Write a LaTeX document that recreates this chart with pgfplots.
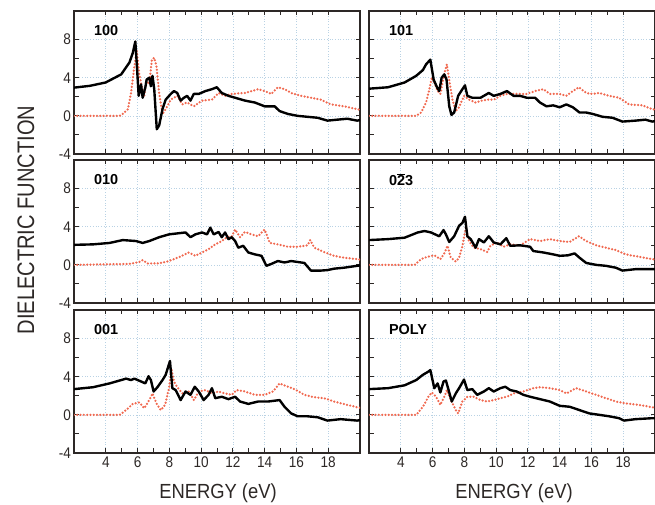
\documentclass[border=0pt]{standalone}
\usepackage{fontspec}
\setmainfont{Liberation Sans}
\usepackage{pgfplots}
\pgfplotsset{compat=1.18}
\definecolor{redd}{RGB}{240,105,80}
\definecolor{gridc}{RGB}{185,210,228}
\definecolor{framec}{RGB}{45,40,38}
\pgfplotsset{
 panel/.style={scale only axis, width=286bp, height=143bp,
  xmin=2, xmax=20, ymin=-4, ymax=11,
  xtick={4,6,...,18}, ytick={-4,0,4,8},
  minor x tick num=1, minor y tick num=1,
  tick align=inside, tick pos=both,
  major tick length=4.5bp, minor tick length=4.5bp,
  grid=major, major grid style={gridc, line width=0.6pt, dash pattern=on 0.7pt off 2pt},
  axis line style={framec, line width=1.7pt},
  every tick/.style={framec, line width=1pt},
  tick label style={font=\fontsize{15.5}{17}\selectfont, text=framec, xscale=0.88},
  /pgf/number format/assume math mode=true,
  anchor=north west},
 blk/.style={black, line width=2.4pt, line join=round},
 redline/.style={redd, line width=2.5pt, line cap=round, dash pattern=on 0pt off 3.3pt}
}
\tikzset{plab/.style={anchor=west, font=\bfseries\fontsize{14.5}{16}\selectfont}}
\begin{document}
\begin{tikzpicture}
\useasboundingbox (0,0) rectangle (655bp,505bp);
% ---------- 100
\begin{axis}[panel, at={(74bp,494bp)}, xticklabels={}]
\addplot[redline] coordinates {(2.00,0)(4.87,0)(5.07,0.2)(5.39,0.7)(5.59,2.4)(5.80,5.2)(5.95,6.8)(6.11,4.35)(6.28,3.0)(6.42,2.1)(6.57,3.65)(6.74,3.3)(6.90,5.9)(7.05,6.1)(7.19,5.2)(7.36,2.4)(7.57,0.2)(7.77,0.7)(8.09,1.7)(8.50,2.1)(8.81,1.2)(9.12,1.4)(9.54,1.0)(10.06,1.6)(10.68,1.7)(11.10,2.4)(11.51,2.1)(11.93,2.3)(12.76,2.4)(13.59,2.8)(14.00,2.6)(14.42,2.3)(14.83,3.0)(15.25,2.8)(15.67,2.4)(16.29,2.1)(16.91,1.9)(17.54,1.7)(18.16,1.2)(18.99,1.0)(19.82,0.7)(20.0,0.65)};
\addplot[blk] coordinates {(2.00,2.96)(3.00,3.15)(3.99,3.5)(4.97,4.35)(5.49,5.6)(5.70,6.6)(5.86,7.8)(5.95,5.5)(6.07,2.1)(6.22,3.3)(6.32,1.9)(6.49,3.0)(6.57,3.8)(6.74,4.0)(6.84,3.1)(6.94,4.2)(7.05,2.8)(7.21,-1.4)(7.36,-1.0)(7.57,0.7)(7.77,1.7)(8.09,2.3)(8.29,2.6)(8.50,2.4)(8.71,1.6)(8.92,1.9)(9.12,2.1)(9.33,1.6)(9.54,2.3)(9.85,2.3)(10.27,2.6)(10.68,2.8)(10.99,3.0)(11.30,2.4)(11.72,2.1)(12.14,1.9)(12.76,1.6)(13.38,1.4)(14.00,1.0)(14.63,1.0)(14.94,0.5)(15.46,0.2)(16.08,0.0)(16.70,-0.1)(17.33,-0.2)(17.95,-0.5)(18.57,-0.4)(19.20,-0.3)(19.82,-0.5)(20.0,-0.45)};
\node[plab] at (rel axis cs:0.058,0.86) {100};
\end{axis}
% ---------- 101
\begin{axis}[panel, at={(369bp,494bp)}, xticklabels={}, yticklabels={}]
\addplot[redline] coordinates {(2.00,0)(4.97,0)(5.28,0.35)(5.59,1.4)(5.80,2.8)(5.95,4.0)(6.11,3.5)(6.32,2.6)(6.49,2.3)(6.63,3.5)(6.78,4.7)(6.90,5.4)(7.05,3.8)(7.25,1.7)(7.46,0.5)(7.67,0.9)(7.98,2.1)(8.29,1.7)(8.71,1.4)(9.12,1.6)(9.44,1.7)(9.85,1.7)(10.27,2.1)(10.68,2.3)(11.30,2.3)(11.93,2.3)(12.45,2.6)(12.97,2.8)(13.38,2.3)(14.00,2.3)(14.42,2.1)(14.83,2.6)(15.21,3.0)(15.67,2.4)(16.08,2.3)(16.50,2.4)(17.12,2.1)(17.74,1.9)(18.37,1.2)(19.20,1.1)(19.82,0.7)(20.0,0.65)};
\addplot[blk] coordinates {(2.00,2.85)(3.20,3.0)(4.24,3.5)(4.97,4.2)(5.39,4.8)(5.59,5.4)(5.86,5.9)(6.07,3.8)(6.28,3.0)(6.42,2.6)(6.57,4.0)(6.74,4.35)(6.88,3.8)(7.05,1.0)(7.19,0.1)(7.36,0.35)(7.61,2.1)(7.88,2.8)(8.04,3.2)(8.19,2.1)(8.50,1.9)(9.02,1.9)(9.54,2.4)(9.85,2.1)(10.27,2.3)(10.68,2.6)(11.10,2.1)(11.51,2.1)(11.93,1.9)(12.45,1.9)(12.76,1.4)(13.17,1.0)(13.59,1.1)(14.00,0.9)(14.42,1.2)(14.83,0.9)(15.25,0.35)(15.67,0.35)(16.08,0.2)(16.70,-0.1)(17.33,-0.2)(17.95,-0.6)(18.78,-0.5)(19.40,-0.4)(19.82,-0.6)(20.0,-0.55)};
\node[plab] at (rel axis cs:0.058,0.86) {101};
\end{axis}
% ---------- 010
\begin{axis}[panel, at={(74bp,345bp)}, xticklabels={}]
\addplot[redline] coordinates {(2.00,0)(5.49,0.1)(6.11,0.3)(6.32,0.5)(6.63,0.15)(7.36,0.15)(7.98,0.4)(8.60,0.8)(9.23,1.3)(9.64,0.95)(10.06,1.3)(10.47,1.65)(10.89,2.15)(11.30,2.5)(11.62,2.9)(11.93,3.0)(12.14,3.7)(12.45,2.9)(12.76,3.45)(13.17,3.2)(13.59,3.0)(13.90,3.55)(14.00,3.7)(14.32,2.3)(14.83,2.15)(15.46,1.9)(16.08,1.9)(16.70,2.05)(16.87,2.6)(17.12,1.8)(17.74,1.35)(18.37,0.95)(18.99,0.75)(19.82,0.6)(20.0,0.55)};
\addplot[blk] coordinates {(2.00,2.1)(3.20,2.15)(4.24,2.3)(5.07,2.6)(5.90,2.5)(6.32,2.3)(6.74,2.5)(7.36,2.9)(7.98,3.2)(9.02,3.4)(9.33,2.9)(9.64,3.2)(10.06,3.4)(10.37,3.2)(10.58,3.9)(10.79,3.2)(11.10,3.45)(11.30,2.9)(11.51,3.4)(11.72,2.7)(11.93,2.9)(12.14,2.5)(12.34,1.8)(12.65,2.0)(12.97,1.3)(13.38,1.1)(13.80,0.95)(14.11,-0.1)(14.42,0.1)(14.83,0.4)(15.25,0.25)(15.67,0.4)(16.08,0.3)(16.50,0.2)(16.91,-0.6)(17.54,-0.6)(17.95,-0.55)(18.37,-0.4)(18.99,-0.3)(19.82,-0.1)(20.0,-0.05)};
\node[plab] at (rel axis cs:0.058,0.86) {010};
\end{axis}
% ---------- 0-23
\begin{axis}[panel, at={(369bp,345bp)}, xticklabels={}, yticklabels={}]
\addplot[redline] coordinates {(2.00,0)(4.87,0)(5.28,0.6)(5.70,0.85)(6.11,1.0)(6.49,0.6)(6.74,1.2)(6.94,2.0)(7.15,0.75)(7.46,0.35)(7.67,0.75)(7.88,2.0)(8.09,3.9)(8.29,2.5)(8.60,1.8)(9.02,1.65)(9.44,1.35)(9.64,2.0)(10.06,2.35)(10.47,1.9)(10.89,2.15)(11.51,2.05)(12.14,2.7)(12.76,2.5)(13.38,2.7)(14.00,2.5)(14.63,2.4)(15.21,3.0)(15.67,2.5)(16.29,2.05)(16.91,1.8)(17.54,1.55)(18.16,1.1)(18.99,0.85)(19.82,0.6)(20.0,0.55)};
\addplot[blk] coordinates {(2.00,2.6)(3.20,2.7)(4.24,2.85)(5.07,3.4)(5.49,3.55)(5.90,3.4)(6.42,3.0)(6.69,3.65)(6.84,3.2)(7.05,2.4)(7.36,3.0)(7.67,4.1)(7.88,4.4)(8.04,5.05)(8.19,3.0)(8.40,2.7)(8.71,1.8)(8.92,2.7)(9.23,2.35)(9.54,3.0)(9.85,2.35)(10.27,2.15)(10.64,2.8)(10.89,2.0)(11.51,2.05)(12.14,1.9)(12.34,1.45)(12.97,1.3)(13.59,1.1)(14.00,0.95)(14.52,1.0)(14.94,1.2)(15.25,0.75)(15.67,0.2)(16.29,0.0)(16.91,-0.1)(17.54,-0.3)(17.95,-0.6)(18.78,-0.45)(19.82,-0.45)(20.0,-0.45)};
\node[plab] at (rel axis cs:0.058,0.86) {0$\overline{\mbox{2}}$3};
\end{axis}
% ---------- 001
\begin{axis}[panel, at={(74bp,195bp)}]
\addplot[redline] coordinates {(2.00,0)(4.87,0)(5.28,0.5)(5.70,1.15)(6.11,1.3)(6.42,0.7)(6.74,1.55)(6.94,2.25)(7.19,1.2)(7.46,0.5)(7.73,1.05)(7.98,2.8)(8.13,4.85)(8.29,3.5)(8.50,2.9)(8.81,2.25)(9.23,2.45)(9.54,1.55)(9.85,2.45)(10.27,2.6)(10.68,2.25)(11.10,2.45)(11.51,2.25)(11.93,2.1)(12.24,2.6)(12.76,2.45)(13.38,2.1)(14.00,2.1)(14.52,2.45)(14.94,3.3)(15.46,2.95)(15.87,2.7)(16.50,2.1)(17.12,1.85)(17.74,1.75)(18.37,1.4)(19.20,1.05)(19.82,0.8)(20.0,0.75)};
\addplot[blk] coordinates {(2.00,2.7)(3.20,2.9)(4.24,3.3)(4.97,3.65)(5.28,3.8)(5.59,3.65)(5.80,3.8)(6.22,3.5)(6.49,3.3)(6.69,4.05)(6.84,3.65)(7.01,2.45)(7.25,2.9)(7.57,3.65)(7.77,4.2)(8.04,5.65)(8.19,2.8)(8.40,2.6)(8.71,1.55)(9.02,2.45)(9.33,2.1)(9.60,2.95)(9.85,2.45)(10.16,1.55)(10.47,2.1)(10.68,2.8)(10.89,1.75)(11.30,1.9)(11.72,1.65)(12.14,1.9)(12.45,1.4)(12.97,1.15)(13.59,1.4)(14.21,1.4)(14.94,1.55)(15.25,0.85)(15.67,0.15)(16.08,-0.15)(16.70,-0.15)(17.33,-0.25)(17.95,-0.6)(18.78,-0.45)(19.82,-0.6)(20.0,-0.55)};
\node[plab] at (rel axis cs:0.058,0.86) {001};
\end{axis}
% ---------- POLY
\begin{axis}[panel, at={(369bp,195bp)}, yticklabels={}]
\addplot[redline] coordinates {(2.00,0)(4.97,0)(5.39,0.85)(5.74,1.9)(5.95,2.35)(6.22,1.9)(6.49,1.05)(6.74,1.9)(6.90,2.6)(7.15,1.55)(7.46,0.5)(7.61,0.15)(7.88,1.4)(8.19,1.9)(8.60,1.9)(9.02,1.55)(9.44,1.4)(9.85,1.55)(10.27,1.75)(10.68,1.9)(11.10,2.25)(11.72,2.45)(12.34,2.8)(12.76,2.9)(13.38,2.8)(14.00,2.6)(14.42,2.25)(15.04,2.8)(15.67,2.45)(16.29,2.1)(16.91,1.75)(17.54,1.4)(18.16,1.2)(18.99,1.05)(19.82,0.8)(20.0,0.75)};
\addplot[blk] coordinates {(2.00,2.7)(3.20,2.8)(4.24,3.1)(4.97,3.65)(5.39,4.2)(5.70,4.5)(5.86,4.7)(6.11,2.8)(6.32,3.3)(6.49,2.35)(6.69,3.5)(6.84,3.6)(7.01,2.6)(7.21,1.4)(7.46,2.25)(7.67,2.8)(7.98,3.7)(8.19,2.6)(8.50,2.7)(8.81,2.1)(9.23,2.45)(9.54,2.8)(9.85,2.45)(10.27,2.8)(10.58,2.95)(10.89,2.6)(11.30,2.45)(11.72,2.1)(12.14,1.9)(12.76,1.65)(13.38,1.4)(14.00,0.95)(14.63,0.85)(15.25,0.5)(15.87,0.15)(16.50,0.0)(17.12,-0.15)(17.74,-0.35)(18.05,-0.6)(18.78,-0.45)(19.82,-0.35)(20.0,-0.35)};
\node[plab] at (rel axis cs:0.058,0.86) {POLY};
\end{axis}
\node[rotate=90, xscale=0.84, font=\fontsize{24}{26}\selectfont, text=framec] at (26bp,285bp) {DIELECTRIC FUNCTION};
\node[xscale=0.9, font=\fontsize{20.5}{22}\selectfont, text=framec] at (218bp,12bp) {ENERGY (eV)};
\node[xscale=0.9, font=\fontsize{20.5}{22}\selectfont, text=framec] at (514bp,12bp) {ENERGY (eV)};
\end{tikzpicture}
\end{document}
